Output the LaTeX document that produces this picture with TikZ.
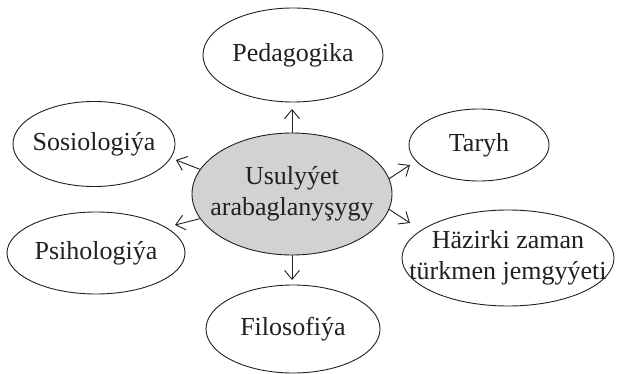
\documentclass[tikz,border=0pt]{standalone}
\usepackage{fontspec}
\setmainfont{Liberation Serif}
\usetikzlibrary{shapes.geometric,arrows.meta}
\definecolor{fillgray}{RGB}{210,210,210}
\definecolor{ink}{RGB}{35,31,32}
\begin{document}
\begin{tikzpicture}[x=1pt,y=-1pt,
  oval/.style={ellipse,draw=ink,line width=0.9pt,inner sep=0pt},
  lbl/.style={text=ink,inner sep=0pt,font=\fontsize{26}{31}\selectfont,align=center},
  arr/.style={draw=ink,line width=0.9pt,-{Straight Barb[length=9pt,width=15pt,line width=0.9pt]}}]
\useasboundingbox (0,0) rectangle (618,374);
\node[oval,fill=fillgray,minimum width=200pt,minimum height=122pt] (c) at (292,194) {};
\node[lbl] (ct) at (c) {Usulyýet\\arabaglanyşygy};
\node[oval,minimum width=180pt,minimum height=94pt] (ped) at (293,55) {};
\node[lbl] (pedt) at (ped) {Pedagogika};
\node[oval,minimum width=162pt,minimum height=85pt] (sos) at (94,144) {};
\node[lbl] (sost) at (sos) {Sosiologiýa};
\node[oval,minimum width=178pt,minimum height=82pt] (psi) at (96,253) {};
\node[lbl] (psit) at (psi) {Psihologiýa};
\node[oval,minimum width=140pt,minimum height=72pt] (tar) at (479,145) {};
\node[lbl] (tart) at (tar) {Taryh};
\node[oval,minimum width=212pt,minimum height=96pt] (haz) at (508,258) {};
\node[lbl] (hazt) at (haz) {Häzirki zaman\\türkmen jemgyýeti};
\node[oval,minimum width=174pt,minimum height=88pt] (fil) at (293,329) {};
\node[lbl] (filt) at (fil) {Filosofiýa};
\coordinate (tU) at (292,109);
\coordinate (tD) at (292,280);
\coordinate (tS) at (176,160);
\coordinate (tP) at (175,225);
\coordinate (tT) at (410,165);
\coordinate (tH) at (410,223);
\draw[arr] (c.north) -- (tU);
\draw[arr] (c.south) -- (tD);
\draw[arr] (c.165) -- (tS);
\draw[arr] (c.195) -- (tP);
\draw[arr] (c.9) -- (tT);
\draw[arr] (c.-9) -- (tH);
\end{tikzpicture}
\end{document}
